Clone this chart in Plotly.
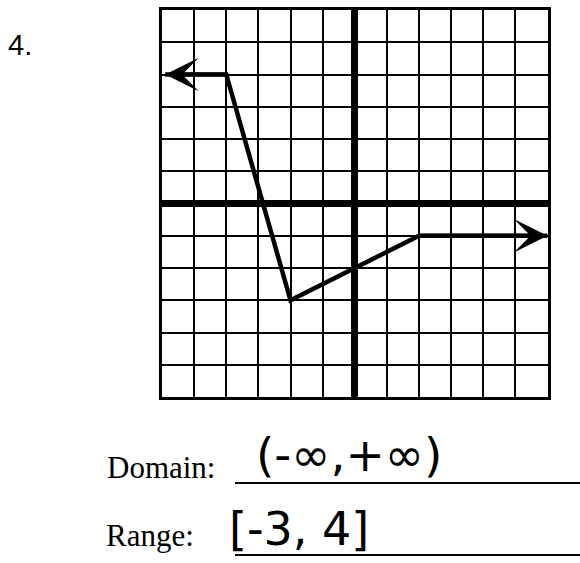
import plotly.graph_objects as go

# Piecewise graph vertices (the two ends continue as arrows)
graph_x = [-5.9, -4, -2, 2, 6]
graph_y = [4, 4, -3, -1, -1]

# Grid extent in graph units
grid_min, grid_max = -6, 6

problem_label = "4."
domain_label = "Domain:"
range_label = "Range:"
domain_answer = "(-∞,+∞)"
range_answer = "[-3, 4]"

W, H = 580, 563


def px(x):
    return x / W


def py(y):
    return 1 - y / H


fig = go.Figure()

fig.add_trace(go.Scatter(
    x=graph_x, y=graph_y, mode="lines",
    line=dict(color="black", width=4.5),
    cliponaxis=False, hoverinfo="skip", showlegend=False,
))

# Arrowheads at both open ends of the graph
for tip, tail in [(0, 1), (-1, -2)]:
    fig.add_annotation(
        x=graph_x[tip], y=graph_y[tip], ax=graph_x[tail], ay=graph_y[tail],
        xref="x", yref="y", axref="x", ayref="y", text="",
        showarrow=True, arrowhead=3, arrowsize=1.4, arrowwidth=4,
        arrowcolor="black",
    )

axis_common = dict(
    range=[grid_min, grid_max], dtick=1, tick0=0,
    showgrid=True, gridcolor="black", gridwidth=2.2,
    zeroline=True, zerolinecolor="black", zerolinewidth=7,
    showline=True, mirror=True, linecolor="black", linewidth=3,
    showticklabels=False, ticks="", fixedrange=True,
)

fig.update_layout(
    width=W, height=H,
    margin=dict(l=0, r=0, t=0, b=0),
    paper_bgcolor="white", plot_bgcolor="white",
    xaxis=dict(domain=[px(162), px(547.5)], **axis_common),
    yaxis=dict(domain=[py(397), py(10)], **axis_common),
    showlegend=False,
)

# Problem number
fig.add_annotation(
    x=px(6), y=py(45), xref="paper", yref="paper",
    xanchor="left", yanchor="middle", showarrow=False,
    text=problem_label,
    font=dict(family="Liberation Sans", size=29, color="black"),
)

# Labels
fig.add_annotation(
    x=px(105), y=py(467), xref="paper", yref="paper",
    xanchor="left", yanchor="middle", showarrow=False,
    text=domain_label,
    font=dict(family="Liberation Serif", size=31, color="black"),
)
fig.add_annotation(
    x=px(104), y=py(535), xref="paper", yref="paper",
    xanchor="left", yanchor="middle", showarrow=False,
    text=range_label,
    font=dict(family="Liberation Serif", size=31, color="black"),
)

# Answer lines
for yline in (483, 555):
    fig.add_shape(
        type="line", xref="paper", yref="paper",
        x0=px(235), x1=px(580), y0=py(yline), y1=py(yline),
        line=dict(color="black", width=2),
    )

# Handwritten answers
fig.add_annotation(
    x=px(349), y=py(455), xref="paper", yref="paper",
    xanchor="center", yanchor="middle", showarrow=False,
    text=domain_answer,
    font=dict(family="DejaVu Sans", size=47, color="black"),
)
fig.add_annotation(
    x=px(299), y=py(529), xref="paper", yref="paper",
    xanchor="center", yanchor="middle", showarrow=False,
    text=range_answer,
    font=dict(family="DejaVu Sans", size=46, color="black"),
)

fig.write_html("out.html")
